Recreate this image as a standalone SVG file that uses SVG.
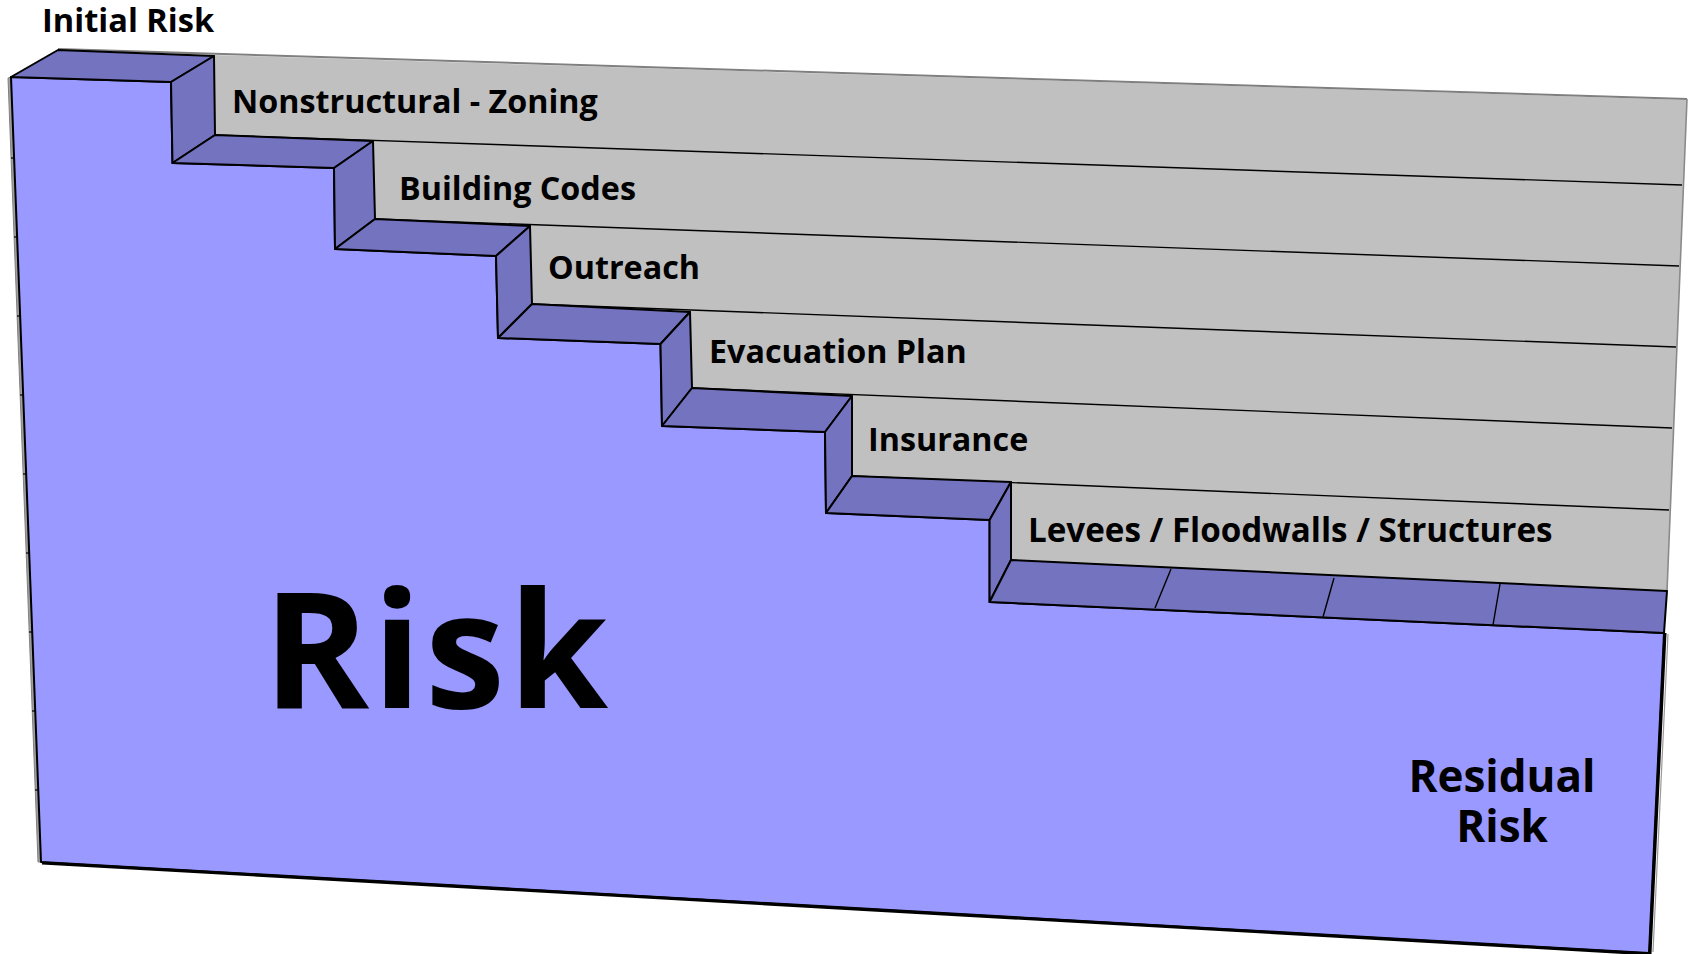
<svg xmlns="http://www.w3.org/2000/svg" width="1690" height="954" viewBox="0 0 1690 954">
<style>
.front{fill:#9999FF;stroke:#000;stroke-width:2;stroke-linejoin:round}
.dark{fill:#7373BF;stroke:#000;stroke-width:2;stroke-linejoin:round}
.wall{fill:#C0C0C0;stroke:none}
.div{stroke:#000;stroke-width:1.4;fill:none}
.lbl{font-family:"Open Sans","Noto Sans","DejaVu Sans",sans-serif;font-weight:700;font-size:32.3px;fill:#000}
.big{font-family:"Open Sans","Noto Sans","DejaVu Sans",sans-serif;font-weight:700;fill:#000}
</style>
<rect width="1690" height="954" fill="#FFFFFF"/>
<g id="back-wall">
<polygon class="wall" points="214,55 1687,100 1667,591 1011,560 1011,482 852,476 852,396 692,388 690,312 532,304 530,226 375,219 373,141 215,135"/>
<line x1="58" y1="49" x2="1687" y2="99" stroke="#7f7f7f" stroke-width="2"/>
<line x1="1687" y1="99" x2="1667" y2="591" stroke="#8a8a8a" stroke-width="1.6"/>
<g class="div">
<line x1="215" y1="135" x2="1682" y2="185"/>
<line x1="375" y1="219" x2="1679" y2="266"/>
<line x1="532" y1="304" x2="1676" y2="347"/>
<line x1="692" y1="388" x2="1672" y2="428"/>
<line x1="852" y1="476" x2="1669" y2="510"/>
</g>
</g>
<g id="left-side">
<polygon points="8,78 11,77 41,862 38,862" fill="#A0A0A0" stroke="#808080" stroke-width="1"/>
<g stroke="#000" stroke-width="1.2">
<line x1="11" y1="158" x2="14.5" y2="158"/>
<line x1="14" y1="237" x2="17.5" y2="237"/>
<line x1="17" y1="316" x2="20.5" y2="316"/>
<line x1="20" y1="395" x2="23.5" y2="395"/>
<line x1="23" y1="474" x2="26.5" y2="474"/>
<line x1="26" y1="553" x2="29.5" y2="553"/>
<line x1="29" y1="632" x2="32.5" y2="632"/>
<line x1="32" y1="711" x2="35.5" y2="711"/>
<line x1="35" y1="790" x2="38.5" y2="790"/>
</g>
</g>
<g id="risk-body">
<polygon class="front" points="11,77 171,82 172.5,163 334,168 335,249 496,256 498,338 660.5,344 662,426 825,432 826,513 989.6,520 989.6,602 1664,633 1649,953 41,862"/>
<polyline points="1665,633 1650,954 42,863" fill="none" stroke="#000" stroke-width="3"/>
<polyline points="1668,634 1653,952" fill="none" stroke="#9a9a9a" stroke-width="1.2"/>
</g>
<g id="step-0">
<polygon class="dark" points="11,77 58,50 214,56 171,82"/>
<polygon class="dark" points="171,82 214,56 215,135 172.5,163"/>
</g>
<g id="step-1">
<polygon class="dark" points="172.5,163 215,135 373,141 334,168"/>
<polygon class="dark" points="334,168 373,141 375,219 335,249"/>
</g>
<g id="step-2">
<polygon class="dark" points="335,249 375,219 530,226 496,256"/>
<polygon class="dark" points="496,256 530,226 532,304 498,338"/>
</g>
<g id="step-3">
<polygon class="dark" points="498,338 532,304 690,312 660.5,344"/>
<polygon class="dark" points="660.5,344 690,312 692,388 662,426"/>
</g>
<g id="step-4">
<polygon class="dark" points="662,426 692,388 852,396 825,432"/>
<polygon class="dark" points="825,432 852,396 852,476 826,513"/>
</g>
<g id="step-5">
<polygon class="dark" points="826,513 852,476 1011,482 989.6,520"/>
<polygon class="dark" points="989.6,520 1011,482 1011,560 989.6,602"/>
</g>
<g id="step-bottom">
<polygon class="dark" points="989.6,602 1011,560 1667,591 1664,633"/>
<g class="div">
<line x1="1171" y1="569" x2="1155" y2="608"/>
<line x1="1334" y1="578" x2="1323" y2="617"/>
<line x1="1500" y1="584" x2="1493" y2="625"/>
</g>
</g>
<g id="labels">
<text class="lbl" x="42" y="32" style="font-size:32.6px">Initial Risk</text>
<text class="lbl" x="232" y="113">Nonstructural - Zoning</text>
<text class="lbl" x="399" y="200">Building Codes</text>
<text class="lbl" x="548" y="279">Outreach</text>
<text class="lbl" x="709" y="363">Evacuation Plan</text>
<text class="lbl" x="868" y="451">Insurance</text>
<text class="lbl" x="1028" y="542" style="font-size:33.2px">Levees / Floodwalls / Structures</text>
<text class="big" x="263" y="708" font-size="161" letter-spacing="3.3">Risk</text>
<text class="big" font-size="44" text-anchor="middle"><tspan x="1502" y="792">Residual</tspan><tspan x="1502" y="842">Risk</tspan></text>
</g>
</svg>
